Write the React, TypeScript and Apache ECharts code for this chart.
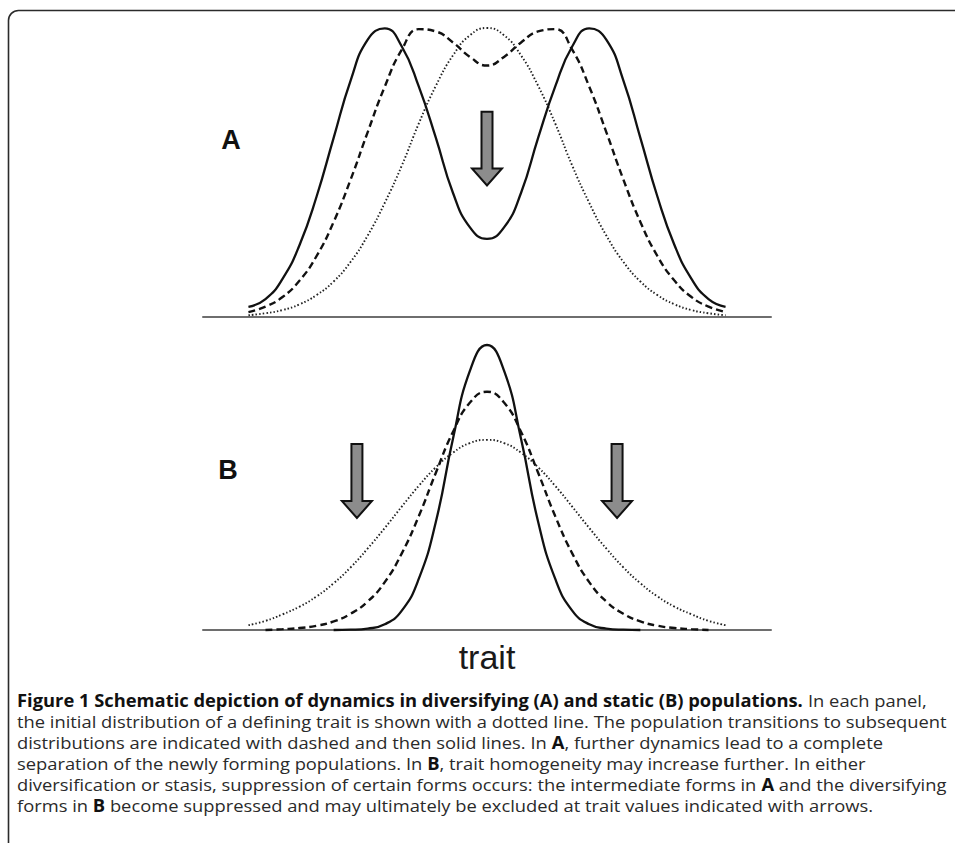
import React, { useEffect, useRef } from 'react';
import * as echarts from 'echarts';

// trait axis positions (0..100 across the baseline)
const traitX = [8, 11, 14, 17, 20, 23, 26, 29, 32, 35, 38, 41, 44, 47, 50, 53, 56, 59, 62, 65, 68, 71, 74, 77, 80, 83, 86, 89, 92];

// Panel A (diversifying)
const aSolid = [3.5, 6.2, 13.2, 24.9, 41.7, 62, 81.9, 96, 99.9, 93.6, 79.7, 62, 43, 31, 27, 31, 43, 62, 79.7, 93.6, 99.9, 96, 81.9, 62, 41.7, 24.9, 13.2, 6.2, 3.5];
const aDashed = [1.7, 3.6, 6.9, 12.6, 21.1, 32.9, 47.6, 64, 79.7, 92.5, 99.6, 98.8, 95, 90, 87, 90, 95, 98.8, 99.6, 92.5, 79.7, 64, 47.6, 32.9, 21.1, 12.6, 6.9, 3.6, 1.7];
const aDotted = [0.6, 1.3, 2.4, 4.4, 7.6, 12.3, 19.1, 28.2, 39.5, 52.4, 67, 80, 90.5, 97.5, 100, 97.5, 90.5, 80, 67, 52.4, 39.5, 28.2, 19.1, 12.3, 7.6, 4.4, 2.4, 1.3, 0.6];

// Panel B (static)
const bSolid = [null, null, null, null, null, 0, 0.1, 0.5, 2, 6.8, 18, 38, 67, 91, 100, 91, 67, 38, 18, 6.8, 2, 0.5, 0.1, 0, null, null, null, null, null];
const bDashed = [null, 0, 0.3, 0.7, 1.5, 3, 5.7, 10, 16.8, 26.9, 40, 55.2, 69.5, 79.8, 83.6, 79.8, 69.5, 55.2, 40, 26.9, 16.8, 10, 5.7, 3, 1.5, 0.7, 0.3, 0, null];
const bDotted = [1.7, 3.2, 5.5, 8.2, 11.8, 16.4, 22, 28.6, 35.8, 43.3, 50.6, 57.1, 62.2, 65.6, 66.7, 65.6, 62.2, 57.1, 50.6, 43.3, 35.8, 28.6, 22, 16.4, 11.8, 8.2, 5.5, 3.2, 1.7];

// Arrow positions (trait value) and their top / tip (curve value units)
const arrowsA = [50];
const arrowsB = [27.1, 72.9];
const arrowSpanA = [71, 45.5];
const arrowSpanB = [65.3, 39.3];

const panelLabels = ['A', 'B'];
const axisName = 'trait';

// Caption: segments [text, bold]
const captionLines: [string, boolean][][] = [
  [['Figure 1 Schematic depiction of dynamics in diversifying (A) and static (B) populations.', true], [' In each panel,', false]],
  [['the initial distribution of a defining trait is shown with a dotted line. The population transitions to subsequent', false]],
  [['distributions are indicated with dashed and then solid lines. In ', false], ['A', true], [', further dynamics lead to a complete', false]],
  [['separation of the newly forming populations. In ', false], ['B', true], [', trait homogeneity may increase further. In either', false]],
  [['diversification or stasis, suppression of certain forms occurs: the intermediate forms in ', false], ['A', true], [' and the diversifying', false]],
  [['forms in ', false], ['B', true], [' become suppressed and may ultimately be excluded at trait values indicated with arrows.', false]],
];
// right edge of the lines that run the full width
const fullLineRight: Record<number, number> = { 0: 939, 1: 941, 4: 940 };

const CAP_FONT = '"Open Sans", "Noto Sans", sans-serif';
const CAP_SIZE = 17;

function zip(vals: (number | null)[]) {
  return traitX.map((x, i) => [x, vals[i]]);
}

export default function App() {
  const ref = useRef<HTMLDivElement>(null);
  useEffect(() => {
    if (!ref.current) return;
    const chart = echarts.init(ref.current, null, { renderer: 'svg' });
    const xAxisBase = {
      type: 'value' as const,
      min: 0,
      max: 100,
      axisLine: { show: true, onZero: false, lineStyle: { color: '#6e6e6e', width: 2 } },
      axisTick: { show: false },
      axisLabel: { show: false },
      splitLine: { show: false },
    };
    const solid = { color: '#111', width: 2.3, type: 'solid' as const };
    const dashed = { color: '#111', width: 2.4, type: [7, 4] as any };
    const dotted = { color: '#222', width: 1.9, type: [1.5, 2.1] as any };
    const mk = (data: any, axis: number, ls: any, z: number) => ({
      type: 'line',
      xAxisIndex: axis,
      yAxisIndex: axis,
      data,
      smooth: 0.5,
      showSymbol: false,
      symbol: 'none',
      clip: false,
      silent: true,
      lineStyle: ls,
      z,
    });
    chart.setOption({
      animation: false,
      backgroundColor: '#fff',
      grid: [
        { left: 203, right: 184, top: 28, height: 289 },
        { left: 203, right: 184, top: 345, height: 285 },
      ],
      xAxis: [
        { ...xAxisBase, gridIndex: 0 },
        {
          ...xAxisBase,
          gridIndex: 1,
          name: axisName,
          nameLocation: 'middle',
          nameGap: 10,
          nameTextStyle: { fontSize: 34, fontFamily: '"Liberation Sans", Arial, sans-serif', color: '#1a1a1a' },
        },
      ],
      yAxis: [
        { type: 'value', gridIndex: 0, min: 0, max: 100, show: false },
        { type: 'value', gridIndex: 1, min: 0, max: 100, show: false },
      ],
      series: [
        mk(zip(aDotted), 0, dotted, 2),
        mk(zip(aDashed), 0, dashed, 3),
        mk(zip(aSolid), 0, solid, 4),
        mk(zip(bDotted), 1, dotted, 2),
        mk(zip(bDashed), 1, dashed, 3),
        mk(zip(bSolid), 1, solid, 4),
      ],
    });

    const graphics: any[] = [];
    // border
    graphics.push({
      type: 'rect',
      shape: { x: 8.5, y: 10.5, width: 1200, height: 1200, r: 10 },
      style: { fill: 'none', stroke: '#2b2b2b', lineWidth: 1.6 },
      silent: true,
    });
    const arrow = (gi: number, xv: number, span: number[]) => {
      const top = chart.convertToPixel({ gridIndex: gi } as any, [xv, span[0]]) as number[];
      const tip = chart.convertToPixel({ gridIndex: gi } as any, [xv, span[1]]) as number[];
      const cx = top[0];
      const hb = tip[1] - 17;
      graphics.push({
        type: 'polygon',
        shape: {
          points: [
            [cx - 5.5, top[1]], [cx + 5.5, top[1]], [cx + 5.5, hb], [cx + 15, hb],
            [cx, tip[1]], [cx - 15, hb], [cx - 5.5, hb],
          ],
        },
        style: { fill: '#8c8c8c', stroke: '#111', lineWidth: 2, lineJoin: 'miter' },
        silent: true,
        z: 10,
      });
    };
    arrowsA.forEach((x) => arrow(0, x, arrowSpanA));
    arrowsB.forEach((x) => arrow(1, x, arrowSpanB));

    // panel labels
    const labelPos = [[231, 140], [228, 470]];
    panelLabels.forEach((t, i) => {
      graphics.push({
        type: 'text',
        x: labelPos[i][0],
        y: labelPos[i][1],
        style: {
          text: t,
          fontSize: 27,
          fontWeight: 'bold',
          fontFamily: '"Liberation Sans", Arial, sans-serif',
          fill: '#111',
          align: 'center',
          verticalAlign: 'middle',
        },
        silent: true,
      });
    });

    // caption
    const cv = document.createElement('canvas').getContext('2d')!;
    const fontStr = (b: boolean) => `${b ? 'bold ' : ''}${CAP_SIZE}px ${CAP_FONT}`;
    const meas = (t: string, b: boolean) => {
      cv.font = fontStr(b);
      return cv.measureText(t).width;
    };
    const left = 17;
    const layouts = captionLines.map((segs) => {
      let cursor = 0;
      const placed: { t: string; b: boolean; at: number }[] = [];
      segs.forEach(([t, b]) => {
        const lead = t.length - t.trimStart().length;
        if (lead) cursor += meas(' '.repeat(lead), b);
        const tt = t.trim();
        placed.push({ t: tt, b, at: cursor });
        cursor += meas(tt, b);
        const trail = t.length - t.trimEnd().length;
        if (trail && tt.length) cursor += meas(' '.repeat(trail), b);
      });
      return { placed, width: cursor };
    });
    const fullIdx = Object.keys(fullLineRight).map(Number);
    const scale =
      fullIdx.reduce((s, i) => s + (fullLineRight[i] - left) / layouts[i].width, 0) / fullIdx.length;
    layouts.forEach((lay, li) => {
      const y = 700 + li * 21;
      lay.placed.forEach((p) => {
        graphics.push({
          type: 'text',
          x: left + p.at * scale,
          y,
          scaleX: scale,
          style: {
            text: p.t,
            fontSize: CAP_SIZE,
            fontWeight: p.b ? 'bold' : 'normal',
            fontFamily: CAP_FONT,
            fill: p.b ? '#111' : '#2a2a2a',
            align: 'left',
            verticalAlign: 'middle',
          },
          silent: true,
        });
      });
    });

    chart.setOption({ graphic: graphics });
    return () => chart.dispose();
  }, []);
  return (
    <div
      ref={ref}
      style={{ position: 'absolute', left: 0, top: 0, width: 955, height: 843, background: '#fff' }}
    />
  );
}
